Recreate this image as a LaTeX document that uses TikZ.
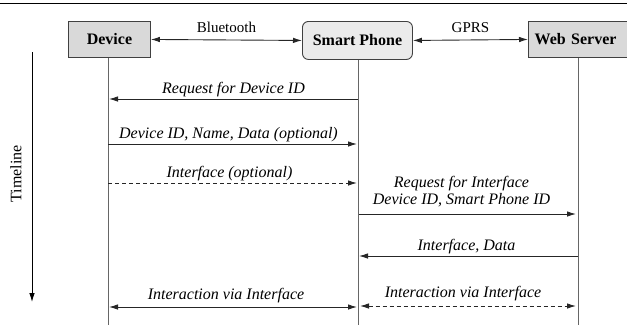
\documentclass[tikz,border=0pt]{standalone}
\usepackage{fontspec}
\setmainfont{Liberation Serif}
\usetikzlibrary{arrows.meta}
\begin{document}
\begin{tikzpicture}[x=1pt,y=-1pt,
  box/.style={draw=black!75,line width=0.9pt,fill=black!15,font=\fontsize{16}{18}\selectfont\bfseries,inner sep=0pt,anchor=north west},
  life/.style={draw=black!60,line width=0.9pt},
  msg/.style={draw=black!85,line width=0.9pt,-{Latex[length=9pt,width=5.5pt]}},
  bimsg/.style={draw=black!85,line width=0.9pt,{Latex[length=9pt,width=5.5pt]}-{Latex[length=9pt,width=5.5pt]}},
  dsh/.style={dash pattern=on 4pt off 3pt},
  lbl/.style={font=\fontsize{16}{17}\selectfont\itshape,anchor=base,inner sep=0pt,yshift=6pt},
  chan/.style={font=\fontsize{15}{17}\selectfont,anchor=base,inner sep=0pt,yshift=7pt}]
\useasboundingbox (0,0) rectangle (627,325);
\draw[line width=1.7pt] (0,3.5) -- (627,3.5);
% participants
\node[box,minimum width=82pt,minimum height=36pt] (dev) at (68,21) {Device};
\node[box,fill=black!8,rounded corners=6pt,minimum width=110pt,minimum height=38pt] (sp) at (302,21) {Smart Phone};
\node[box,minimum width=98.5pt,minimum height=36pt,text width=96pt,align=left] (ws) at (528,21) {\hspace{5pt}Web Server};
% channels
\draw[bimsg] (dev.east) -- node[chan,midway]{Bluetooth} (sp.west);
\draw[bimsg] (sp.east) -- node[chan,midway]{GPRS} (ws.west);
% lifelines
\coordinate (devE) at (108,325);
\coordinate (spE) at (358,325);
\coordinate (wsE) at (578,325);
\draw[life] (dev.south -| devE) -- (devE);
\draw[life] (sp.south -| spE) -- (spE);
\draw[life] (ws.south -| wsE) -- (wsE);
% timeline
\coordinate (t1) at (32,52);
\coordinate (t2) at (32,302);
\draw[line width=0.9pt,-{Latex[length=9pt,width=5.5pt]}] (t1) -- node[midway,rotate=90,font=\fontsize{16}{18}\selectfont,xshift=3pt,yshift=16pt]{Timeline} (t2);
% message points
\coordinate (d1) at (109,99);  \coordinate (s1) at (358,99);
\coordinate (d2) at (108,144); \coordinate (s2) at (357,144);
\coordinate (d3) at (108,183); \coordinate (s3) at (357,183);
\coordinate (s4) at (359,214); \coordinate (w4) at (576,214);
\coordinate (s5) at (359,256); \coordinate (w5) at (578,256);
\coordinate (d6) at (109,307); \coordinate (s6) at (357,307);
\coordinate (s7) at (360,306); \coordinate (w7) at (576,306);
\draw[msg] (s1) -- node[lbl,midway]{Request for Device ID} (d1);
\draw[msg] (d2) -- node[lbl,midway,xshift=-4pt]{Device ID, Name, Data (optional)} (s2);
\draw[msg,dsh] (d3) -- node[lbl,midway,xshift=-3pt]{Interface (optional)} (s3);
\draw[msg] (s4) -- node[midway,anchor=south,inner sep=0pt,yshift=7pt,xshift=-6pt,align=center,font=\fontsize{16}{17}\selectfont\itshape]{Request for Interface\\Device ID, Smart Phone ID} (w4);
\draw[msg] (w5) -- node[lbl,midway,xshift=-2pt]{Interface, Data} (s5);
\draw[bimsg] (d6) -- node[lbl,midway,xshift=-7pt,yshift=2pt]{Interaction via Interface} (s6);
\draw[bimsg,dsh] (s7) -- node[lbl,midway,xshift=-5pt,yshift=3pt]{Interaction via Interface} (w7);
\end{tikzpicture}
\end{document}
